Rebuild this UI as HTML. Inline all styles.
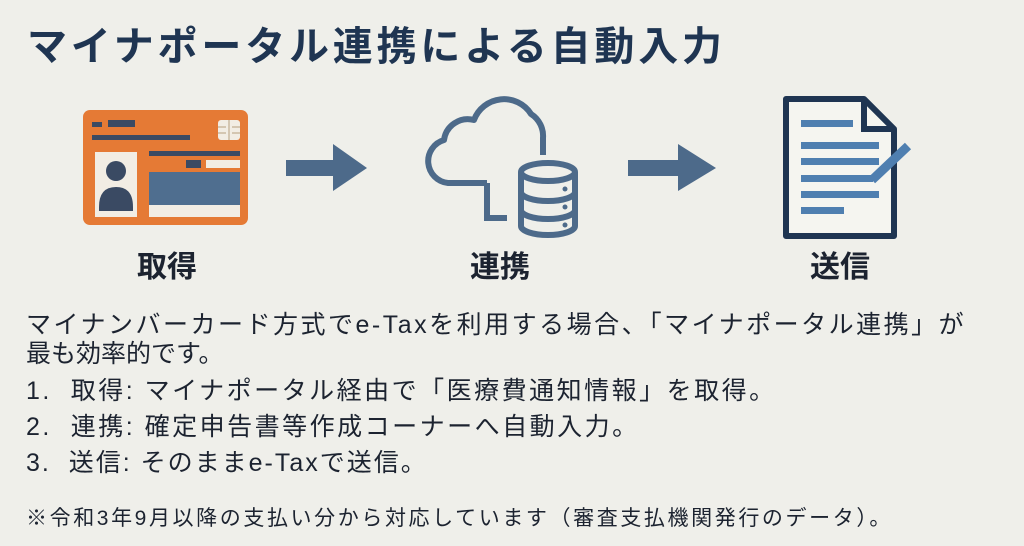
<!DOCTYPE html>
<html><head><meta charset="utf-8"><style>
body{margin:0;width:1024px;height:546px;background:#efefea;overflow:hidden;position:relative;font-family:"Liberation Sans","Noto Sans CJK JP",sans-serif;color:#1c2330}
.t{position:absolute;white-space:nowrap;line-height:1}
.b{font-size:25px;letter-spacing:2.5px}
</style></head><body>
<div class="t" style="left:27px;top:27px;font-size:40px;font-weight:bold;color:#1f3552;letter-spacing:3.8px">マイナポータル連携による自動入力</div>
<svg style="position:absolute;left:0;top:0" width="1024" height="300">
<rect x="83" y="110" width="165" height="115" rx="7" fill="#e57a35"/>
<rect x="92" y="122" width="10" height="5" fill="#3a4a63"/>
<rect x="108" y="120" width="27" height="7" fill="#3a4a63"/>
<rect x="92" y="135" width="98" height="5" fill="#3a4a63"/>
<rect x="218" y="120" width="22" height="20" rx="3" fill="#f2ede4"/>
<path d="M229 120v20M218 127h8M218 133h8M232 127h8M232 133h8" stroke="#c9b9a0" stroke-width="1.5"/>
<rect x="95" y="152" width="42" height="65" fill="#f2ede4"/>
<circle cx="116" cy="171" r="10" fill="#3a4a63"/>
<path d="M99 207q0-20 17-20q17 0 17 20v4h-34z" fill="#3a4a63"/>
<rect x="149" y="151" width="91" height="5" fill="#3a4a63"/>
<rect x="186" y="160" width="15" height="8" fill="#3a4a63"/>
<rect x="206" y="160" width="34" height="8" fill="#f2ede4"/>
<rect x="149" y="172" width="91" height="33" fill="#4f6e8f"/>
<rect x="149" y="205" width="91" height="12" fill="#f2ede4"/>
<polygon points="286,160 333,160 333,144 367,168 333,191 333,176 286,176" fill="#4d6a8a"/>
<path d="M487 183H448a22 22 0 0 1-4-43a24 24 0 0 1 30-20a32 32 0 0 1 57-6a26 26 0 0 1 12 24v17" fill="none" stroke="#4d6a8a" stroke-width="6" stroke-linejoin="round"/>
<path d="M487 183v35h20" fill="none" stroke="#4d6a8a" stroke-width="6"/>
<g fill="none" stroke="#4d6a8a" stroke-width="6">
<ellipse cx="548" cy="172" rx="27" ry="9"/>
<path d="M521 172v54a27 9 0 0 0 54 0v-54M521 192a27 9 0 0 0 54 0M521 210a27 9 0 0 0 54 0"/>
</g>
<circle cx="565" cy="189" r="2.5" fill="#4d6a8a"/><circle cx="565" cy="207" r="2.5" fill="#4d6a8a"/><circle cx="565" cy="225" r="2.5" fill="#4d6a8a"/>
<polygon points="628,160 678,160 678,144 716,168 678,191 678,176 628,176" fill="#4d6a8a"/>
<path d="M786 99h78l30 30v107h-108z" fill="#f5f5f0" stroke="#1f3552" stroke-width="6" stroke-linejoin="round"/>
<path d="M864 99v30h30" fill="none" stroke="#1f3552" stroke-width="6"/>
<g fill="#4f7fb0"><rect x="801" y="120" width="52" height="7"/><rect x="801" y="142" width="78" height="7"/><rect x="801" y="158" width="78" height="7"/><rect x="801" y="175" width="72" height="7"/><rect x="801" y="191" width="78" height="7"/><rect x="801" y="207" width="43" height="7"/></g>
<path d="M872 180l36-34" stroke="#4f7fb0" stroke-width="9"/>
</svg>
<div class="t" style="left:137px;top:253px;font-size:30px;font-weight:bold">取得</div>
<div class="t" style="left:470px;top:253px;font-size:30px;font-weight:bold">連携</div>
<div class="t" style="left:810px;top:253px;font-size:30px;font-weight:bold">送信</div>
<div class="t b" style="left:26px;top:313px">マイナンバーカード方式でe-Taxを利用する場合、「マイナポータル連携」が</div>
<div class="t b" style="left:26px;top:342px;letter-spacing:0">最も効率的です。</div>
<div class="t b" style="left:26px;top:379px">1.&nbsp;&nbsp;取得: マイナポータル経由で「医療費通知情報」を取得。</div>
<div class="t b" style="left:26px;top:415px">2.&nbsp;&nbsp;連携: 確定申告書等作成コーナーへ自動入力。</div>
<div class="t b" style="left:26px;top:451px;letter-spacing:2px">3.&nbsp;&nbsp;送信: そのままe-Taxで送信。</div>
<div class="t" style="left:26px;top:508px;font-size:21px;letter-spacing:2.6px">※令和3年9月以降の支払い分から対応しています（審査支払機関発行のデータ）。</div>
</body></html>
